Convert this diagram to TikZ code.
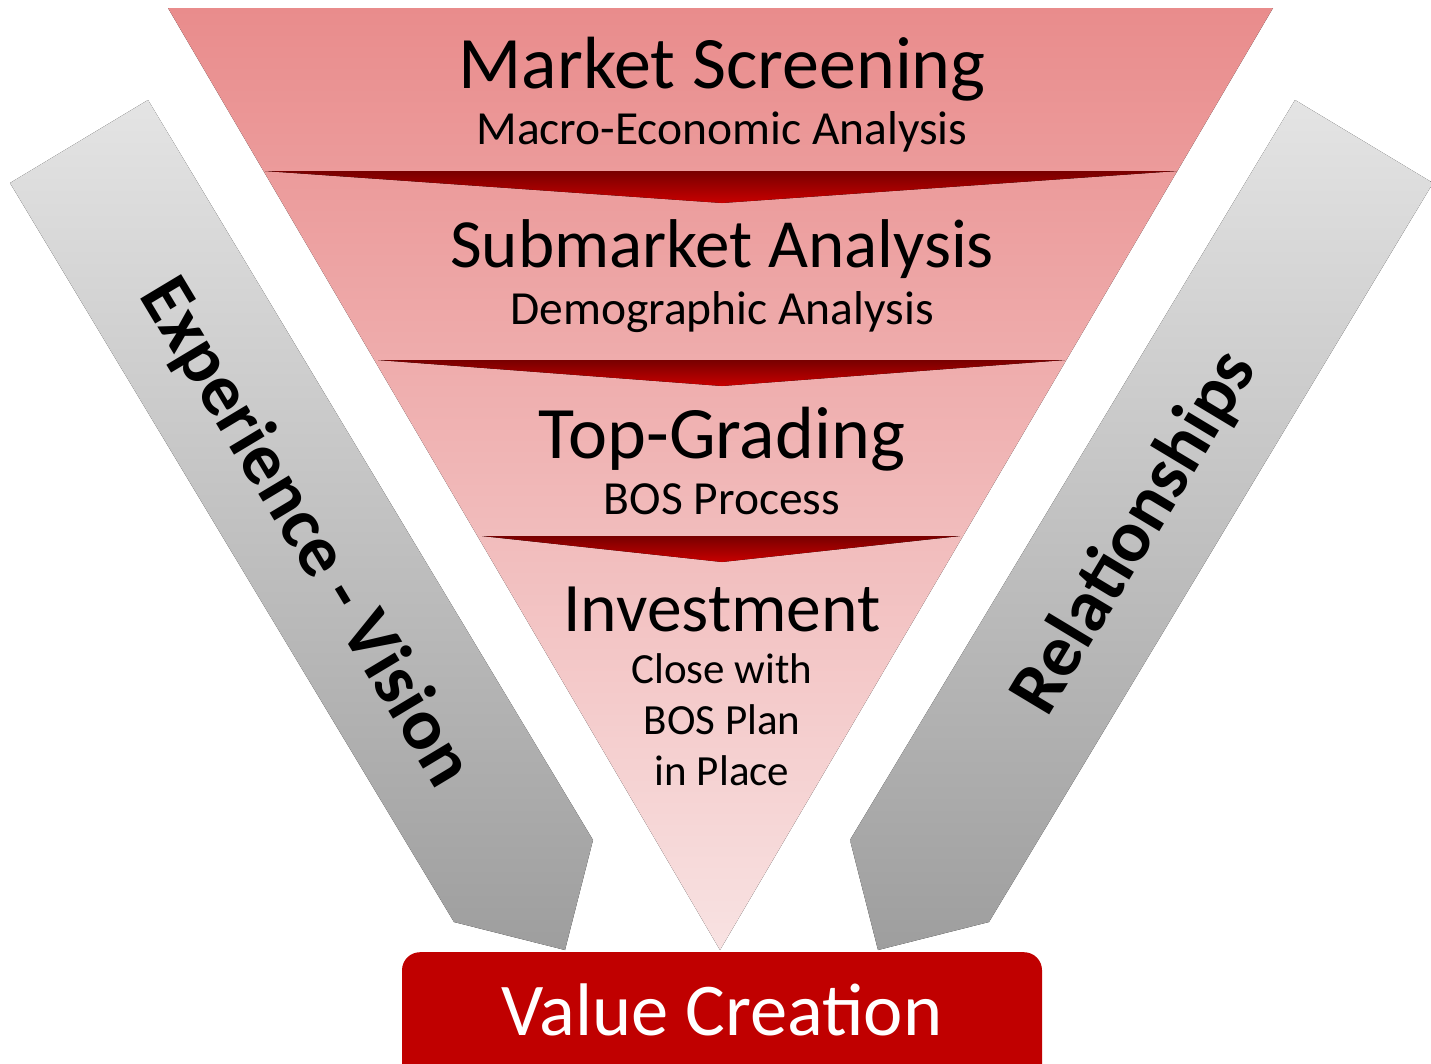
\documentclass[tikz,border=0pt]{standalone}
\usepackage{fontspec}
\setmainfont{Carlito}
\begin{document}
\begin{tikzpicture}[x=1pt,y=-1pt,
  title/.style={font=\fontsize{74}{80}\selectfont, text=black, inner sep=0pt},
  subtitle/.style={font=\fontsize{47.5}{52}\selectfont, text=black, inner sep=0pt},
  detail/.style={font=\fontsize{43}{51}\selectfont, text=black, inner sep=0pt, align=center},
  sideword/.style={font=\bfseries\fontsize{73.5}{78}\selectfont, text=black, inner sep=0pt},
  divider/.style={top color=divtop, bottom color=divbot, draw=none},
  sidearrow/.style={top color=graytop, bottom color=graybot, draw=none}
]
\definecolor{funneltop}{RGB}{233,140,140}
\definecolor{funnelbot}{RGB}{248,226,226}
\definecolor{divtop}{RGB}{120,0,0}
\definecolor{divbot}{RGB}{200,0,0}
\definecolor{graytop}{RGB}{228,228,228}
\definecolor{graybot}{RGB}{158,158,158}
\definecolor{valuered}{RGB}{192,0,0}

\useasboundingbox (0,0) rectangle (1431,1063);

% side arrows
\fill[sidearrow] (10,183) -- (148,100) -- (593,840) -- (565,950) -- (454,922) -- cycle;
\fill[sidearrow] (1433,183) -- (1295,100) -- (850,840) -- (878,950) -- (989,922) -- cycle;

% funnel
\fill[top color=funneltop, bottom color=funnelbot] (168,8) -- (1273,8) -- (720,950) -- cycle;

% stage dividers
\fill[divider] (265,171) -- (1177,171) -- (722,203) -- cycle;
\fill[divider] (378,360) -- (1065,360) -- (722,386) -- cycle;
\fill[divider] (482,536) -- (960,536) -- (722,562) -- cycle;

% stage texts
\node[title] (s1) at (722,69) {Market Screening};
\node[subtitle] (s1b) at (722,132) {Macro-Economic Analysis};
\node[title, font=\fontsize{69}{74}\selectfont] (s2) at (722,249) {Submarket Analysis};
\node[subtitle] (s2b) at (722,312) {Demographic Analysis};
\node[title] (s3) at (722,439) {Top-Grading};
\node[subtitle] (s3b) at (722,499) {BOS Process};
\node[title, font=\fontsize{69.5}{74}\selectfont] (s4) at (722,609) {Investment};
\node[detail] (s4b) at (722,720) {Close with\\BOS Plan\\in Place};

% side labels
\node[sideword, rotate=-59] (lv) at (305,533) {Experience - Vision};
\node[sideword, rotate=59] (rl) at (1135,533) {Relationships};

% result box
\node[fill=valuered, rounded corners=18pt, minimum width=640pt, minimum height=130pt,
      inner sep=0pt, anchor=north] (vc) at (722,952) {};
\node[text=white, font=\fontsize{74.5}{78}\selectfont, inner sep=0pt] (vct) at (722,1010) {Value Creation};
\end{tikzpicture}
\end{document}
